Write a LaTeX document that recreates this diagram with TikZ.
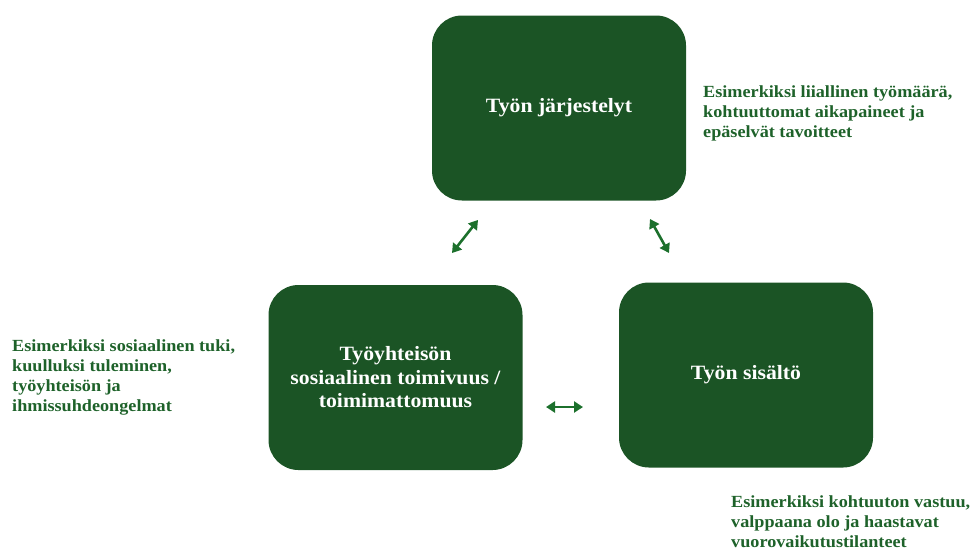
\documentclass[tikz,border=0pt]{standalone}
\usepackage{fontspec}
\setmainfont{Liberation Serif}[FakeStretch=1.07]
\usetikzlibrary{arrows.meta,calc}
\definecolor{boxGreen}{RGB}{27,84,37}
\definecolor{noteGreen}{RGB}{30,98,42}
\definecolor{arrowGreen}{RGB}{28,112,44}

\begin{document}
\begin{tikzpicture}[x=1pt, y=-1pt,
  tekijä/.style={fill=boxGreen, rounded corners=30pt, minimum width=254pt, minimum height=185pt, text=white, align=center, font=\fontsize{20.3}{23.5}\selectfont\bfseries},
  esim/.style={anchor=north west, inner sep=0pt, align=left, text=noteGreen, font=\fontsize{17}{20}\selectfont\bfseries},
  kaksisuunta/.style={{Triangle[length=9pt,width=11pt]}-{Triangle[length=9pt,width=11pt]}, line width=2.6pt, arrowGreen}]
\useasboundingbox (0,0) rectangle (973,550);
% kolme tekijää
\node[tekijä] (jarjestelyt) at (559,108) {Työn järjestelyt};
\node[tekijä] (yhteiso) at (395.5,377.5) {Työyhteisön\\sosiaalinen toimivuus /\\toimimattomuus};
\node[tekijä] (sisalto) at (746,375) {Työn sisältö};
% esimerkit
\node[esim] (esimJ) at (703,85.5) {Esimerkiksi liiallinen työmäärä,\\kohtuuttomat aikapaineet ja\\epäselvät tavoitteet};
\node[esim] (esimY) at (12,339) {Esimerkiksi sosiaalinen tuki,\\kuulluksi tuleminen,\\työyhteisön ja\\ihmissuhdeongelmat};
\node[esim] (esimS) at (731,495) {Esimerkiksi kohtuuton vastuu,\\valppaana olo ja haastavat\\vuorovaikutustilanteet};
% nuolet
\coordinate (yj1) at (452,253); \coordinate (yj2) at (478,220);
\coordinate (js1) at (650,219); \coordinate (js2) at (669,253);
\coordinate (ys1) at (546,407); \coordinate (ys2) at (583,407);
\foreach \a/\b in {yj1/yj2, js1/js2, ys1/ys2} \draw[kaksisuunta] (\a) -- (\b);
\end{tikzpicture}
\end{document}
